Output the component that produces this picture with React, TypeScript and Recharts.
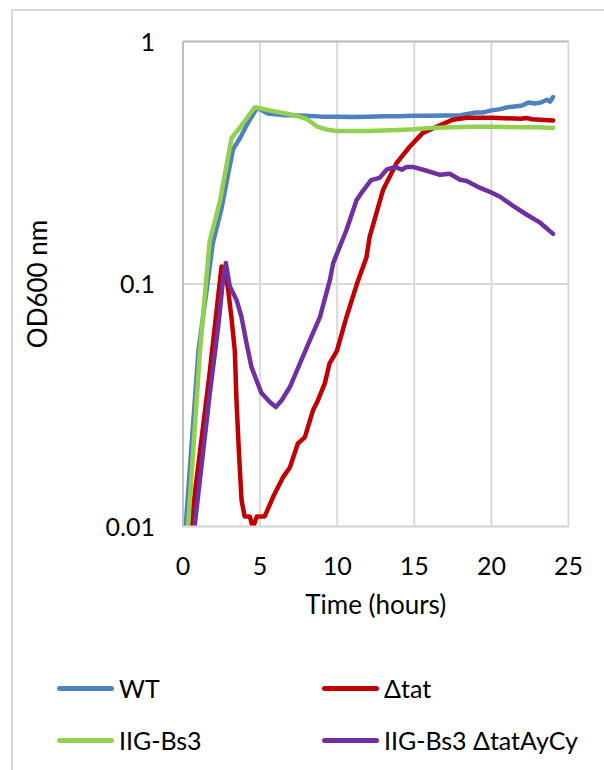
import React from 'react';
import { LineChart, Line, XAxis, YAxis, CartesianGrid, Legend, ReferenceLine } from 'recharts';

const FONT = "Lato, 'Open Sans', sans-serif";
const FS = 25;

const xTicks = [0, 5, 10, 15, 20, 25];
const yTicks = [0.01, 0.1, 1];

const seriesNames = ['WT', 'Δtat', 'IIG-Bs3', 'IIG-Bs3 ΔtatAyCy'];
const seriesColors = ['#4f81bd', '#c00000', '#92d050', '#7030a0'];

const wtHours = [0, 0.5, 1.0, 1.5, 1.93, 2.5, 3.0, 3.25, 3.7, 4.2, 4.8, 5.5, 6.5, 7, 8, 9, 10, 11, 12, 13, 14, 15, 16, 17, 18, 19, 19.5, 20, 20.5, 21, 21.5, 22, 22.4, 22.8, 23.2, 23.6, 23.8, 24.0];
const wtOD = [0.0071, 0.0193, 0.053, 0.091, 0.147, 0.205, 0.30, 0.36, 0.40, 0.46, 0.533, 0.505, 0.497, 0.497, 0.494, 0.49, 0.49, 0.488, 0.49, 0.492, 0.492, 0.494, 0.494, 0.495, 0.497, 0.51, 0.51, 0.52, 0.525, 0.535, 0.54, 0.545, 0.56, 0.555, 0.56, 0.575, 0.565, 0.59];

const tatHours = [0, 0.5, 1.0, 1.73, 2.2, 2.5, 2.9, 3.14, 3.36, 3.47, 3.62, 3.8, 4.0, 4.33, 4.53, 4.79, 5.3, 5.83, 6.47, 6.93, 7.45, 7.9, 8.42, 8.75, 9.2, 9.5, 9.98, 10.6, 11.3, 11.9, 12.1, 12.97, 13.86, 14.7, 15.55, 16.45, 17.5, 18.4, 20.1, 21.9, 22.3, 22.6, 24];
const tatOD = [0.0054, 0.01, 0.018, 0.043, 0.08, 0.118, 0.098, 0.073, 0.053, 0.033, 0.0206, 0.0128, 0.011, 0.011, 0.0099, 0.011, 0.011, 0.0132, 0.0159, 0.0175, 0.022, 0.0233, 0.030, 0.0331, 0.039, 0.047, 0.053, 0.073, 0.101, 0.129, 0.156, 0.244, 0.316, 0.368, 0.42, 0.445, 0.476, 0.485, 0.485, 0.48, 0.484, 0.478, 0.472];

const bs3Hours = [0, 0.33, 1.1, 1.73, 2.4, 3.15, 3.55, 4.0, 4.65, 5.0, 5.6, 7.4, 8.0, 8.7, 9.3, 10, 12, 13, 14, 15, 16, 17, 18, 19, 20, 21, 22, 23, 24];
const bs3OD = [0.0056, 0.01, 0.053, 0.15, 0.22, 0.40, 0.43, 0.47, 0.535, 0.53, 0.52, 0.494, 0.48, 0.446, 0.434, 0.427, 0.427, 0.43, 0.432, 0.435, 0.44, 0.442, 0.444, 0.445, 0.445, 0.444, 0.443, 0.443, 0.44];

const bs3TatHours = [0, 0.75, 1.73, 2.3, 2.6, 2.78, 3.03, 3.47, 3.79, 4.12, 4.44, 4.77, 5.09, 5.63, 6.02, 6.39, 6.93, 7.58, 8.23, 8.88, 9.53, 9.74, 10.6, 11.26, 11.58, 12.2, 12.75, 13.2, 13.75, 14.2, 14.5, 14.9, 15.8, 16.67, 17.3, 17.97, 18.4, 19.27, 19.9, 20.56, 21.4, 22.3, 23.16, 24.0];
const bs3TatOD = [0.0042, 0.01, 0.035, 0.068, 0.105, 0.122, 0.098, 0.086, 0.0733, 0.057, 0.0455, 0.040, 0.0355, 0.0326, 0.0311, 0.0331, 0.0376, 0.047, 0.0587, 0.073, 0.104, 0.122, 0.167, 0.222, 0.238, 0.268, 0.274, 0.296, 0.304, 0.296, 0.304, 0.304, 0.293, 0.282, 0.285, 0.269, 0.266, 0.249, 0.240, 0.229, 0.210, 0.193, 0.179, 0.161];

const toPoints = (hours: number[], od: number[]) => hours.map((t, i) => ({ t, od: od[i] }));

const seriesData = [
  toPoints(wtHours, wtOD),
  toPoints(tatHours, tatOD),
  toPoints(bs3Hours, bs3OD),
  toPoints(bs3TatHours, bs3TatOD),
];

const fmtY = (v: number) => (v >= 1 ? '1' : v >= 0.1 ? '0.1' : '0.01');

const XTick = (props: any) => {
  const { x, y, payload } = props;
  return (
    <text x={x} y={y} dy={18} textAnchor="middle" fill="#000" fontSize={FS} fontFamily={FONT}>
      {payload.value}
    </text>
  );
};

const YTick = (props: any) => {
  const { x, y, payload } = props;
  return (
    <text x={x} y={y} dy={9} textAnchor="end" fill="#000" fontSize={FS} fontFamily={FONT}>
      {fmtY(payload.value)}
    </text>
  );
};

const YLabel = (props: any) => {
  const vb = props.viewBox || {};
  const cx = (vb.x || 0) + 38;
  const cy = (vb.y || 0) + (vb.height || 0) / 2;
  return (
    <text x={cx} y={cy} dy={9} transform={`rotate(-90 ${cx} ${cy})`} textAnchor="middle" fill="#000" fontSize={26} fontFamily={FONT}>
      OD600 nm
    </text>
  );
};

const XLabel = (props: any) => {
  const vb = props.viewBox || {};
  const cx = (vb.x || 0) + (vb.width || 0) / 2;
  const by = (vb.y || 0) + 87;
  return (
    <text x={cx} y={by} textAnchor="middle" fill="#000" fontSize={26} fontFamily={FONT}>
      Time (hours)
    </text>
  );
};

const LegendContent = () => (
  <div style={{ position: 'relative', width: 604, height: 120 }}>
    {seriesNames.map((name, i) => {
      const col = i % 2;
      const row = Math.floor(i / 2);
      const left = col === 0 ? 57 : 322;
      const cy = row === 0 ? 38 : 90;
      return (
        <div key={name} style={{ position: 'absolute', left, top: cy - 15, height: 30, display: 'flex', alignItems: 'center' }}>
          <span style={{ display: 'inline-block', width: 57, height: 5, borderRadius: 3, background: seriesColors[i] }} />
          <span style={{ marginLeft: 5, fontFamily: FONT, fontSize: FS, color: '#000', whiteSpace: 'nowrap', lineHeight: '30px' }}>{name}</span>
        </div>
      );
    })}
  </div>
);

export default function App() {
  return (
    <div style={{ position: 'absolute', left: 0, top: 0, width: 604, height: 770, overflow: 'hidden', background: '#fff' }}>
      <div style={{ position: 'absolute', left: 11, top: 9, width: 800, height: 900, borderLeft: '2px solid #d9d9d9', borderTop: '2px solid #d9d9d9' }} />
      <div style={{ position: 'absolute', left: 0, top: 0 }}>
        <LineChart width={604} height={770} margin={{ top: 41.5, right: 35.5, bottom: 183.5, left: 0 }}>
          <CartesianGrid stroke="#d9d9d9" strokeWidth={2} />
          <XAxis
            dataKey="t"
            type="number"
            domain={[0, 25]}
            ticks={xTicks}
            interval={0}
            height={60}
            tickSize={0}
            tickLine={false}
            tickMargin={30}
            tick={<XTick />}
            axisLine={{ stroke: '#d9d9d9', strokeWidth: 2 }}
            label={{ content: <XLabel /> }}
          />
          <YAxis
            type="number"
            scale="log"
            domain={[0.01, 1]}
            allowDataOverflow
            ticks={yTicks}
            interval={0}
            width={183}
            tickSize={0}
            tickLine={false}
            tickMargin={28}
            tick={<YTick />}
            axisLine={{ stroke: '#bfbfbf', strokeWidth: 2 }}
            label={{ content: <YLabel /> }}
          />
          <ReferenceLine y={1} stroke="#bfbfbf" strokeWidth={2} />
          {seriesData.map((d, i) => (
            <Line
              key={seriesNames[i]}
              data={d}
              dataKey="od"
              name={seriesNames[i]}
              type="linear"
              stroke={seriesColors[i]}
              strokeWidth={4.5}
              strokeLinejoin="round"
              strokeLinecap="round"
              dot={false}
              activeDot={false}
              isAnimationActive={false}
            />
          ))}
          <Legend
            layout="horizontal"
            verticalAlign="middle"
            align="center"
            content={<LegendContent />}
            wrapperStyle={{ position: 'absolute', left: 0, top: 650, width: 604, height: 120 }}
          />
        </LineChart>
      </div>
    </div>
  );
}
